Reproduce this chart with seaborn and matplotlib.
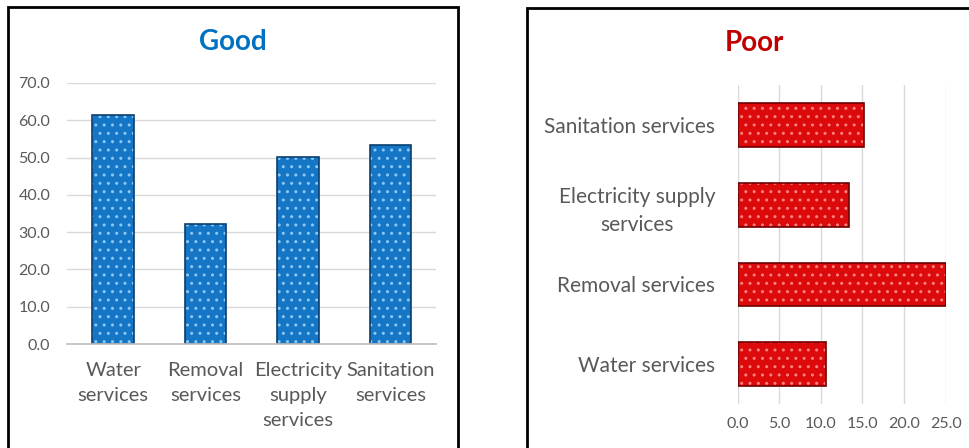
import numpy as np
import pandas as pd
import seaborn as sns
import matplotlib
matplotlib.use("Agg")
import matplotlib.pyplot as plt
from matplotlib.patches import Rectangle
from matplotlib.ticker import FormatStrFormatter

# Dữ liệu
services     = ["Water services", "Removal services",
                "Electricity supply services", "Sanitation services"]
good_values  = [61.4, 32.2, 50.1, 53.3]
poor_values  = [10.6, 25.0, 13.4, 15.2]
good_labels  = ["Water\nservices", "Removal\nservices",
                "Electricity\nsupply\nservices", "Sanitation\nservices"]
poor_labels  = ["Water services", "Removal services",
                "Electricity supply\nservices", "Sanitation services"]

BLUE, BLUE_DOT, BLUE_EDGE = "#1576c6", "#8cc8f5", "#0b3f70"
RED, RED_DOT, RED_EDGE = "#dc0a0a", "#ff8080", "#6e0000"
TICK = "#595959"
GRID = "#d9d9d9"

sns.set_theme(style="white")
plt.rcParams["font.family"] = ["Lato", "DejaVu Sans"]

fig = plt.figure(figsize=(9.7, 4.48), dpi=100)

# ── Good (cột dọc) ──────────────────────────────────────────────────────────
good_df = pd.DataFrame({"service": services, "value": good_values})
ax1 = fig.add_axes([0.069, 0.232, 0.381, 0.583])
sns.barplot(data=good_df, x="service", y="value", color=BLUE, width=0.45,
            saturation=1, ax=ax1)
for p in ax1.patches:
    p.set_hatch("..")
    p.set_edgecolor(BLUE_DOT)
    p.set_linewidth(0)
sns.barplot(data=good_df, x="service", y="value", fill=False, width=0.45,
            edgecolor=BLUE_EDGE, linewidth=1.2, ax=ax1)

ax1.set_ylim(0, 70)
ax1.set_yticks(np.arange(0, 71, 10))
ax1.yaxis.set_major_formatter(FormatStrFormatter("%.1f"))
ax1.set_xticks(range(len(good_labels)))
ax1.set_xticklabels(good_labels, linespacing=1.55)
ax1.tick_params(axis="x", labelsize=14.5, colors=TICK, length=0, pad=13)
ax1.tick_params(axis="y", labelsize=11.5, colors=TICK, length=0, pad=12)
ax1.grid(axis="y", color=GRID, linewidth=1)
ax1.set_axisbelow(True)
for s in ax1.spines.values():
    s.set_visible(False)
ax1.spines["bottom"].set_visible(True)
ax1.spines["bottom"].set_color("#bfbfbf")
ax1.set_xlabel("")
ax1.set_ylabel("")
fig.text(0.240, 0.906, "Good", ha="center", va="center", fontsize=20,
         fontweight="bold", color="#0070c0")

# ── Poor (thanh ngang) ──────────────────────────────────────────────────────
poor_df = pd.DataFrame({"service": services, "value": poor_values}).iloc[::-1]
ax2 = fig.add_axes([0.7605, 0.098, 0.2144, 0.712])
sns.barplot(data=poor_df, y="service", x="value", color=RED, width=0.55,
            saturation=1, orient="h", ax=ax2)
for p in ax2.patches:
    p.set_hatch("..")
    p.set_edgecolor(RED_DOT)
    p.set_linewidth(0)
sns.barplot(data=poor_df, y="service", x="value", fill=False, width=0.55,
            edgecolor=RED_EDGE, linewidth=1.2, orient="h", ax=ax2)

ax2.set_xlim(0, 25)
ax2.set_xticks(np.arange(0, 26, 5))
ax2.xaxis.set_major_formatter(FormatStrFormatter("%.1f"))
ax2.set_yticks(range(len(poor_labels)))
ax2.set_yticklabels(poor_labels[::-1], ha="right", multialignment="center",
                    linespacing=1.5)
ax2.tick_params(axis="y", labelsize=15, colors=TICK, length=0, pad=16)
ax2.tick_params(axis="x", labelsize=11.5, colors=TICK, length=0, pad=9)
ax2.grid(axis="x", color=GRID, linewidth=1)
ax2.set_axisbelow(True)
for s in ax2.spines.values():
    s.set_visible(False)
ax2.set_xlabel("")
ax2.set_ylabel("")
fig.text(0.778, 0.903, "Poor", ha="center", va="center", fontsize=20,
         fontweight="bold", color="#c00000")

# Khung viền quanh hai biểu đồ
fig.patches.append(Rectangle((8 / 970, -0.05), 450 / 970, 1 - 7 / 448 + 0.05,
                             transform=fig.transFigure, fill=False,
                             edgecolor="black", linewidth=2))
fig.patches.append(Rectangle((527 / 970, -0.05), 0.5, 1 - 8 / 448 + 0.05,
                             transform=fig.transFigure, fill=False,
                             edgecolor="black", linewidth=2))

fig.savefig("out.png", dpi=100)
